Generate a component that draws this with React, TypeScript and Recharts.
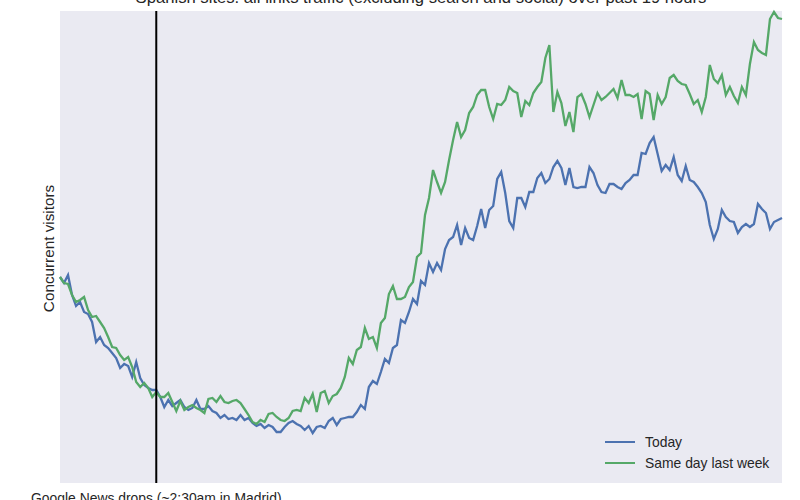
import {
  CartesianGrid,
  Customized,
  Label,
  Legend,
  Line,
  LineChart,
  ReferenceLine,
  XAxis,
  YAxis,
} from "recharts";

// Concurrent visitors, one reading every ~6 minutes over the past 19 hours
const today = [
  206, 200, 208, 188, 177, 181, 171, 169, 161, 141,
  146, 138, 135, 130, 125, 115, 119, 117, 106, 121,
  105, 98, 95, 93, 93, 86, 76, 83, 77, 80,
  83, 76, 73, 75, 83, 74, 74, 77, 72, 70,
  65, 68, 64, 65, 63, 68, 63, 65, 60, 57,
  59, 55, 58, 56, 51, 51, 56, 60, 62, 59,
  57, 53, 57, 50, 56, 57, 55, 62, 65, 58,
  64, 65, 66, 66, 71, 78, 74, 96, 102, 99,
  111, 124, 120, 135, 138, 163, 160, 171, 184, 179,
  202, 198, 220, 211, 220, 213, 234, 243, 246, 258,
  238, 255, 245, 243, 257, 274, 255, 273, 277, 304,
  311, 290, 262, 255, 285, 285, 276, 291, 291, 305,
  310, 300, 304, 316, 322, 315, 298, 315, 296, 295,
  296, 296, 316, 310, 298, 291, 290, 299, 299, 296,
  294, 300, 303, 308, 308, 330, 329, 340, 346, 329,
  312, 318, 313, 326, 308, 302, 317, 303, 301, 296,
  290, 281, 258, 244, 254, 273, 266, 262, 261, 250,
  256, 259, 256, 259, 279, 274, 270, 254, 261, 263,
  265,
];

const lastWeek = [
  206, 200, 199, 188, 181, 183, 186, 173, 166, 167,
  161, 155, 146, 136, 135, 128, 123, 126, 116, 101,
  96, 100, 95, 86, 91, 86, 86, 90, 81, 72,
  82, 73, 76, 78, 75, 73, 70, 84, 85, 81,
  87, 81, 80, 82, 83, 80, 74, 68, 61, 59,
  63, 61, 69, 70, 66, 63, 62, 65, 72, 73,
  72, 85, 80, 89, 71, 90, 92, 80, 87, 89,
  95, 106, 125, 119, 133, 136, 155, 144, 146, 135,
  160, 165, 189, 197, 184, 184, 186, 196, 201, 226,
  230, 268, 285, 313, 301, 290, 301, 323, 343, 361,
  346, 353, 370, 376, 388, 393, 393, 376, 364, 379,
  378, 383, 396, 392, 390, 366, 382, 378, 390, 396,
  401, 425, 438, 371, 391, 380, 357, 371, 351, 386,
  389, 379, 366, 378, 390, 383, 386, 390, 394, 385,
  403, 388, 388, 386, 389, 364, 392, 389, 363, 388,
  379, 386, 405, 408, 402, 399, 398, 389, 379, 383,
  371, 386, 418, 404, 400, 408, 388, 396, 387, 380,
  396, 388, 419, 441, 433, 430, 428, 464, 471, 465,
  464,
];

const seriesNames = ["Today", "Same day last week"];
const seriesColors = ["#4C72B0", "#55A868"];
const dropIndex = 24;
const dropLabel = "Google News drops (~2:30am in Madrid)";
const title =
  "Spanish sites: all links traffic (excluding search and social) over past 19 hours";

const data = today.map((v, t) => ({ t, today: v, lastWeek: lastWeek[t] }));

const textColor = "#262626";
const font = '"Liberation Sans", Arial, sans-serif';

function Texts() {
  return (
    <g fontFamily={font} fill={textColor}>
      <text x={421} y={3} textAnchor="middle" fontSize={16.67}>
        {title}
      </text>
      <text
        x={53.5}
        y={248.5}
        textAnchor="middle"
        fontSize={15.28}
        transform="rotate(-90 53.5 248.5)"
      >
        Concurrent visitors
      </text>
    </g>
  );
}

function LegendBox() {
  return (
    <div style={{ fontFamily: font, fontSize: 13.9, color: textColor }}>
      {seriesNames.map((name, i) => (
        <div
          key={name}
          style={{ display: "flex", alignItems: "center", height: 20.6 }}
        >
          <div
            style={{
              width: 30,
              height: 2.3,
              background: seriesColors[i],
              marginRight: 10,
            }}
          />
          <span>{name}</span>
        </div>
      ))}
    </div>
  );
}

export default function App() {
  return (
    <div style={{ position: "absolute", left: 0, top: 0, fontFamily: font }}>
      <LineChart
        width={800}
        height={500}
        data={data}
        margin={{ top: 11, right: 18, bottom: 17, left: 60 }}
      >
        <CartesianGrid
          fill="#EAEAF2"
          stroke="none"
          horizontal={false}
          vertical={false}
        />
        <XAxis dataKey="t" type="number" domain={[0, 180]} hide />
        <YAxis domain={[0, 472]} hide />
        <Line
          dataKey="today"
          name={seriesNames[0]}
          stroke={seriesColors[0]}
          strokeWidth={2.3}
          dot={false}
          isAnimationActive={false}
        />
        <Line
          dataKey="lastWeek"
          name={seriesNames[1]}
          stroke={seriesColors[1]}
          strokeWidth={2.3}
          dot={false}
          isAnimationActive={false}
        />
        <ReferenceLine x={dropIndex} stroke="#000" strokeWidth={2}>
          <Label
            value={dropLabel}
            position="bottom"
            offset={10}
            fill={textColor}
            fontSize={13.9}
            fontFamily={font}
          />
        </ReferenceLine>
        <Legend
          layout="vertical"
          align="center"
          verticalAlign="middle"
          content={<LegendBox />}
          wrapperStyle={{ left: 605, top: 432, width: "auto", height: "auto" }}
        />
        <Customized component={<Texts />} />
      </LineChart>
    </div>
  );
}
